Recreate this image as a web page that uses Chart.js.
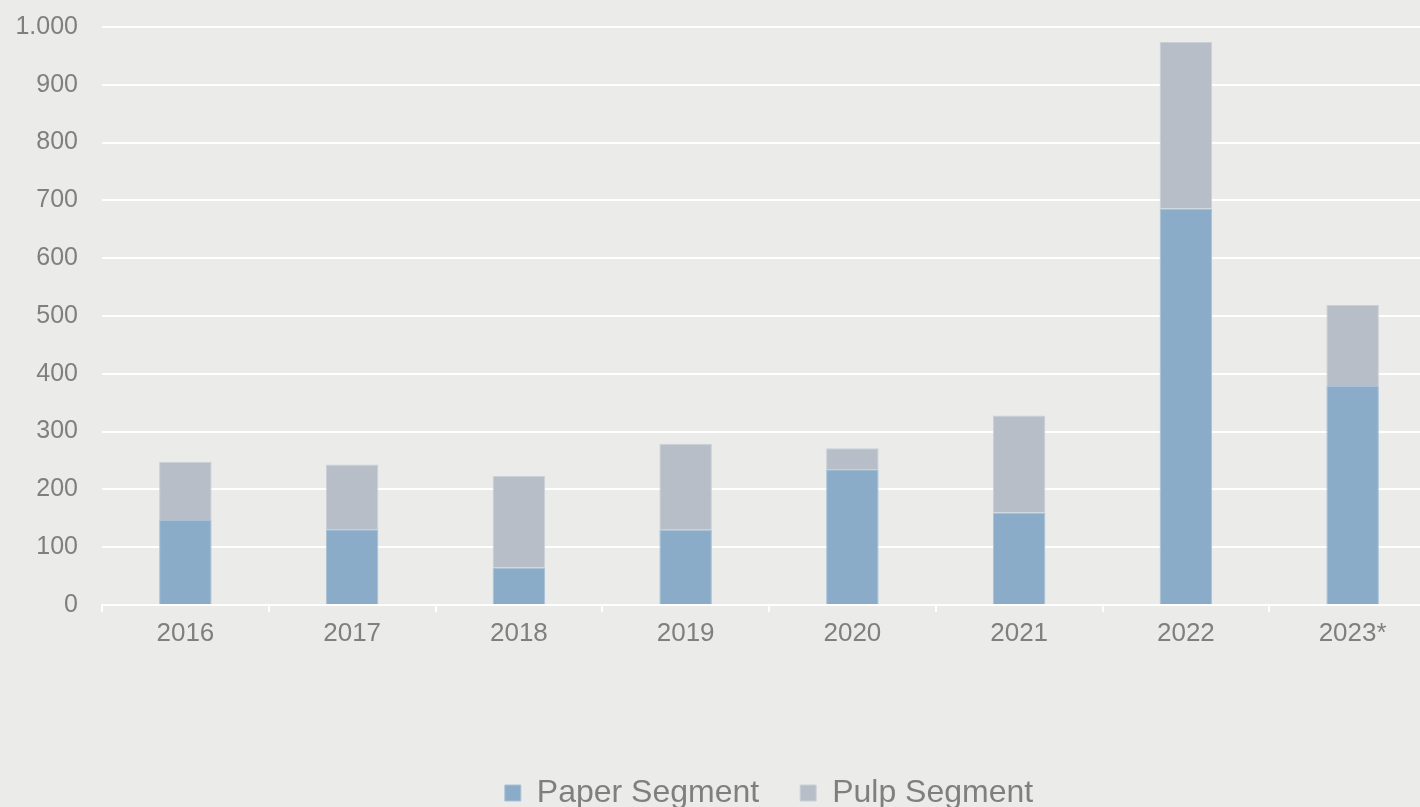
<!DOCTYPE html>
<html>
<head>
<meta charset="utf-8">
<script src="https://cdn.jsdelivr.net/npm/chart.js@4"></script>
<style>
  html, body { margin: 0; padding: 0; background: #ebebea; overflow: hidden; }
  #wrap { width: 1436px; height: 819px; position: relative; }
</style>
</head>
<body>
<div id="wrap"><canvas id="myChart"></canvas></div>
<script>
// Datos
const years = ['2016', '2017', '2018', '2019', '2020', '2021', '2022', '2023*'];
const paperSegment = [147, 131, 65, 130, 235, 160, 686, 379];
const pulpSegment = [101, 112, 158, 149, 36, 168, 288, 140];
const yTicks = [0, 100, 200, 300, 400, 500, 600, 700, 800, 900, 1000];

const textColor = '#7f7f7f';

function formatMiles(v) {
    return String(v).replace(/\B(?=(\d{3})+(?!\d))/g, '.'); // 1000 -> 1.000
}

const ctx = document.getElementById('myChart').getContext('2d');
const myChart = new Chart(ctx, {
    type: 'bar',
    data: {
        labels: years,
        datasets: [{
            label: 'Paper Segment',
            data: paperSegment,
            backgroundColor: '#8aacc8',
            borderColor: '#a9c1d7',
            borderWidth: 1,
            barPercentage: 0.315,
            categoryPercentage: 1
        }, {
            label: 'Pulp Segment',
            data: pulpSegment,
            backgroundColor: '#b7bec8',
            borderColor: '#cbd0d7',
            borderWidth: 1,
            barPercentage: 0.315,
            categoryPercentage: 1
        }]
    },
    options: {
        responsive: true,
        maintainAspectRatio: false,
        animation: false,
        layout: { autoPadding: false, padding: { top: 27, left: 0, right: 0, bottom: 0 } },
        scales: {
            x: {
                stacked: true,
                grid: {
                    offset: true,
                    drawOnChartArea: false,
                    drawTicks: true,
                    tickLength: 7,
                    color: '#ffffff',
                    lineWidth: 2
                },
                border: { display: true, color: '#ffffff', width: 2 },
                ticks: {
                    color: textColor,
                    font: { family: 'Liberation Sans, Arial, sans-serif', size: 26 },
                    padding: 6,
                    maxRotation: 0
                },
                afterFit: function(scale) { scale.height = 131; }
            },
            y: {
                stacked: true,
                min: 0,
                max: 1000,
                afterBuildTicks: function(scale) {
                    scale.ticks = yTicks.map(v => ({ value: v }));
                },
                grid: { color: '#ffffff', lineWidth: 2, drawTicks: false },
                border: { display: false },
                ticks: {
                    color: textColor,
                    font: { family: 'Liberation Sans, Arial, sans-serif', size: 25 },
                    padding: 24,
                    callback: v => formatMiles(v)
                },
                afterFit: function(scale) {
                    scale.width = 102;
                    scale.paddingTop = 0;
                    scale.paddingBottom = 0;
                }
            }
        },
        plugins: {
            legend: {
                display: true,
                position: 'bottom',
                fullSize: false,
                labels: {
                    color: textColor,
                    font: { family: 'Liberation Sans, Arial, sans-serif', size: 32 },
                    boxWidth: 16,
                    boxHeight: 16,
                    padding: 41
                }
            },
            tooltip: { enabled: false }
        }
    }
});
</script>
</body>
</html>
